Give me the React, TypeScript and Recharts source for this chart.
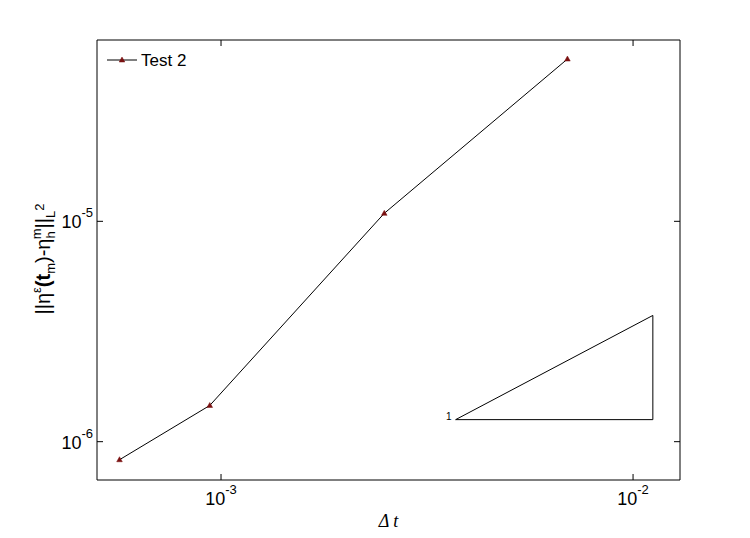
import React from 'react';
import { LineChart, Line, XAxis, YAxis, ReferenceDot } from 'recharts';

const dtValues = [0.000567, 0.000939, 0.00249, 0.00693];
const errValues = [8.28e-7, 1.46e-6, 1.087e-5, 5.45e-5];
const seriesName = 'Test 2';
const xTicks = [0.001, 0.01];
const yTicks = [1e-6, 1e-5];
const triX = [0.00371, 0.01117];
const triY = [1.259e-6, 3.74e-6];
const triLabel = '1';

const data = dtValues.map((x, i) => ({ x, y: errValues[i] }));
const triData = [
  { x: triX[0], y: triY[0] },
  { x: triX[1], y: triY[0] },
  { x: triX[1], y: triY[1] },
  { x: triX[0], y: triY[0] },
];

const FONT = "Arial, 'Liberation Sans', sans-serif";
const MARK = '#7a1010';
const X_DOMAIN = [0.0005, 0.013];
const Y_DOMAIN = [6.7e-7, 6.65e-5];

const expOf = (v: number) => Math.round(Math.log10(v));

const BottomTick = (props: any) => {
  const { x, y, payload } = props;
  const e = String(expOf(payload.value));
  return (
    <g>
      <line x1={x} y1={y} x2={x} y2={y - 6} stroke="#000" />
      <text x={x} y={y + 25} textAnchor="middle" fontFamily={FONT} fill="#000">
        <tspan fontSize={18}>10</tspan>
        <tspan fontSize={13} dy={-11}>{e}</tspan>
      </text>
    </g>
  );
};

const LeftTick = (props: any) => {
  const { x, y, payload } = props;
  const e = String(expOf(payload.value));
  return (
    <g>
      <line x1={x} y1={y} x2={x + 6} y2={y} stroke="#000" />
      <text x={x - 4} y={y + 7} textAnchor="end" fontFamily={FONT} fill="#000">
        <tspan fontSize={18}>10</tspan>
        <tspan fontSize={13} dy={-11}>{e}</tspan>
      </text>
    </g>
  );
};

const TopTick = (props: any) => {
  const { x, y } = props;
  return <line x1={x} y1={y} x2={x} y2={y + 6} stroke="#000" />;
};

const RightTick = (props: any) => {
  const { x, y } = props;
  return <line x1={x} y1={y} x2={x - 6} y2={y} stroke="#000" />;
};

const TriDot = (props: any) => {
  const { cx, cy } = props;
  if (cx == null || cy == null) return null;
  return (
    <polygon
      points={`${cx},${cy - 3} ${cx - 2.8},${cy + 2} ${cx + 2.8},${cy + 2}`}
      fill={MARK}
      stroke={MARK}
      strokeWidth={0.5}
    />
  );
};

const OneLabel = (props: any) => {
  const { viewBox } = props;
  const cx = viewBox.x + (viewBox.width || 0) / 2;
  const cy = viewBox.y + (viewBox.height || 0) / 2;
  return (
    <text x={cx - 4} y={cy} textAnchor="end" fontSize={10} fontFamily={FONT} fill="#000" stroke="none">
      {triLabel}
    </text>
  );
};

const XLabel = (props: any) => {
  const { viewBox } = props;
  const cx = viewBox.x + viewBox.width / 2;
  return (
    <text x={cx} y={viewBox.y + 47} textAnchor="middle" fontSize={18} fontStyle="italic" fontFamily="'Liberation Serif', 'Times New Roman', serif" fill="#000">
      Δ t
    </text>
  );
};

const YLabel = () => {
  const ax = 50;
  const ay = 259;
  return (
    <text
      x={ax}
      y={ay}
      transform={`rotate(-90, ${ax}, ${ay})`}
      textAnchor="middle"
      fontFamily={FONT}
      fill="#000"
      fontSize={20}
    >
      <tspan>||η</tspan>
      <tspan fontSize={13} dy={-9}>ε</tspan>
      <tspan dy={9} fontWeight="bold">(t</tspan>
      <tspan fontSize={13} dy={5}>m</tspan>
      <tspan dy={-5}>)-η</tspan>
      <tspan fontSize={13} dy={5}>h</tspan>
      <tspan fontSize={13} dy={-14} dx={-8}>m</tspan>
      <tspan dy={9}>||</tspan>
      <tspan fontSize={13} dy={5}>L</tspan>
      <tspan fontSize={13} dy={-11}>2</tspan>
    </text>
  );
};

export default function App() {
  return (
    <div style={{ position: 'absolute', left: 0, top: 0, width: 750, height: 538, background: '#fff' }}>
      <LineChart
        width={750}
        height={538}
        data={data}
        margin={{ top: 39, right: 69, left: 0, bottom: 0 }}
      >
        <XAxis
          xAxisId={0}
          dataKey="x"
          type="number"
          scale="log"
          domain={X_DOMAIN}
          allowDataOverflow
          ticks={xTicks}
          tick={<BottomTick />}
          tickLine={false}
          tickSize={0}
          tickMargin={0}
          axisLine={{ stroke: '#000' }}
          height={58}
          label={<XLabel />}
        />
        <XAxis
          xAxisId="top"
          orientation="top"
          dataKey="x"
          type="number"
          scale="log"
          domain={X_DOMAIN}
          allowDataOverflow
          ticks={xTicks}
          tick={<TopTick />}
          tickLine={false}
          tickSize={0}
          tickMargin={0}
          axisLine={{ stroke: '#000' }}
          height={1}
        />
        <YAxis
          yAxisId={0}
          type="number"
          scale="log"
          domain={Y_DOMAIN}
          allowDataOverflow
          ticks={yTicks}
          tick={<LeftTick />}
          tickLine={false}
          tickSize={0}
          tickMargin={0}
          axisLine={{ stroke: '#000' }}
          width={97}
        />
        <YAxis
          yAxisId="right"
          orientation="right"
          type="number"
          scale="log"
          domain={Y_DOMAIN}
          allowDataOverflow
          ticks={yTicks}
          tick={<RightTick />}
          tickLine={false}
          tickSize={0}
          tickMargin={0}
          axisLine={{ stroke: '#000' }}
          width={1}
        />
        <Line
          xAxisId={0}
          yAxisId={0}
          dataKey="y"
          name={seriesName}
          stroke="#000"
          strokeWidth={1}
          dot={<TriDot />}
          activeDot={false}
          isAnimationActive={false}
        />
        <Line
          xAxisId="top"
          yAxisId="right"
          data={triData}
          dataKey="y"
          stroke="#000"
          strokeWidth={1}
          dot={false}
          activeDot={false}
          legendType="none"
          isAnimationActive={false}
        />
        <ReferenceDot
          xAxisId={0}
          yAxisId={0}
          x={triX[0]}
          y={triY[0]}
          r={0}
          fill="none"
          stroke="none"
          label={<OneLabel />}
        />
      </LineChart>
      <svg
        width={750}
        height={538}
        style={{ position: 'absolute', left: 0, top: 0, pointerEvents: 'none' }}
      >
        <YLabel />
        <line x1={107} y1={60} x2={137} y2={60} stroke="#000" strokeWidth={1} />
        <polygon points="122,57 119.2,62 124.8,62" fill={MARK} stroke={MARK} strokeWidth={0.5} />
        <text x={141} y={66} fontSize={17} fontFamily={FONT} fill="#000">
          {seriesName}
        </text>
      </svg>
    </div>
  );
}
